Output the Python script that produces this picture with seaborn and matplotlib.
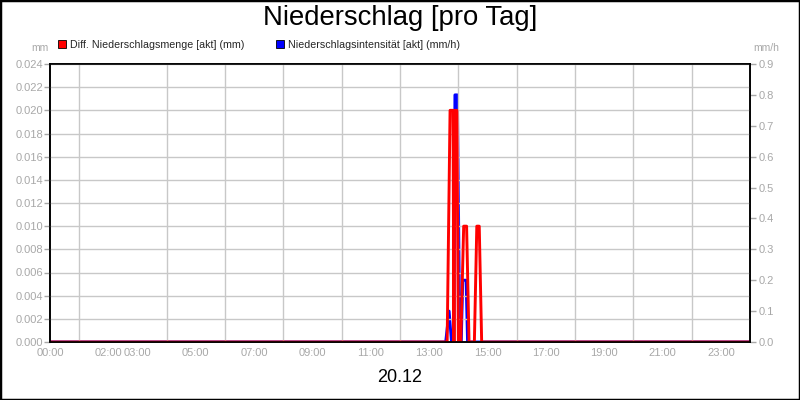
import matplotlib
matplotlib.use("Agg")
import matplotlib.pyplot as plt
import matplotlib.patches as mpatches
import seaborn as sns
import pandas as pd
import numpy as np

# ---- data ----
title = "Niederschlag [pro Tag]"
date_label = "20.12"
red_label = "Diff. Niederschlagsmenge [akt] (mm)"
blue_label = "Niederschlagsintensität [akt] (mm/h)"

red_times = ["00:00", "13:37", "13:43", "13:49", "13:51", "13:53", "13:57", "14:00",
             "14:05", "14:11", "14:17", "14:22", "14:33", "14:38", "14:43", "14:48", "24:00"]
red_values = [0, 0, 0.02, 0.02, 0, 0.02, 0.02, 0,
              0, 0.01, 0.01, 0, 0, 0.01, 0.01, 0, 0]

blue_times = ["00:00", "13:34", "13:41", "13:46", "13:51", "13:53", "13:58", "14:03",
              "14:06", "14:09", "14:16", "14:19", "24:00"]
blue_values = [0, 0, 0.1, 0, 0, 0.8, 0.8, 0,
               0, 0.2, 0.2, 0, 0]

xtick_hours = [0, 2, 3, 5, 7, 9, 11, 13, 15, 17, 19, 21, 23]
xtick_labels = ["00:00", "02:00", "03:00", "05:00", "07:00", "09:00", "11:00",
                "13:00", "15:00", "17:00", "19:00", "21:00", "23:00"]
left_ticks = [0.000, 0.002, 0.004, 0.006, 0.008, 0.010, 0.012, 0.014, 0.016,
              0.018, 0.020, 0.022, 0.024]
right_ticks = [0.0, 0.1, 0.2, 0.3, 0.4, 0.5, 0.6, 0.7, 0.8, 0.9]


def to_hours(t):
    h, m = t.split(":")
    return int(h) + int(m) / 60.0


red_df = pd.DataFrame({"h": [to_hours(t) for t in red_times], "v": red_values})
blue_df = pd.DataFrame({"h": [to_hours(t) for t in blue_times], "v": blue_values})

sns.set_theme(style="white")
plt.rcParams["font.family"] = ["Liberation Sans", "DejaVu Sans"]

GRAY = "#a8a8a8"
GRID = "#c8c8c8"

fig = plt.figure(figsize=(8, 4), dpi=100, facecolor="white")
ax = fig.add_axes([50 / 800, 58 / 400, 700 / 800, 278 / 400])
ax2 = ax.twinx()

# blue on right axis (drawn below), red on left axis (drawn above)
ax.set_zorder(ax2.get_zorder() + 1)
ax.patch.set_visible(False)
ax2.patch.set_facecolor("white")

sns.lineplot(data=blue_df, x="h", y="v", ax=ax2, color="#0000ff", lw=2.1,
             estimator=None, sort=False, legend=False)
sns.lineplot(data=red_df, x="h", y="v", ax=ax, color="#ff0000", lw=2.1,
             estimator=None, sort=False, legend=False)

ax.set_xlim(0, 24)
ax.set_ylim(0, 0.024)
ax2.set_ylim(0, 0.9)

ax.set_xticks(xtick_hours)
ax.set_xticklabels(xtick_labels)
ax.set_xticks(np.arange(0, 25, 1), minor=True)
ax.set_yticks(left_ticks)
ax.set_yticklabels([f"{v:.3f}" for v in left_ticks])
ax2.set_yticks(right_ticks)
ax2.set_yticklabels([f"{v:.1f}" for v in right_ticks])

ax.grid(True, which="minor", axis="x", color=GRID, lw=1)
ax.grid(True, which="major", axis="y", color=GRID, lw=1)
ax.grid(False, which="major", axis="x")
ax.set_axisbelow(True)

for a in (ax, ax2):
    a.set_xlabel("")
    a.set_ylabel("")
    for s in a.spines.values():
        s.set_visible(True)
        s.set_color("black")
        s.set_linewidth(1.2)

ax.tick_params(axis="both", which="both", colors=GRAY, labelcolor=GRAY,
               labelsize=8, length=4, width=1, direction="out", pad=1)
ax.tick_params(axis="x", which="both", length=0, pad=4)
ax2.tick_params(axis="y", colors=GRAY, labelcolor=GRAY, labelsize=8,
                length=4, width=1, direction="out", pad=2)

# unit labels
fig.text(40 / 800, 1 - 48 / 400, "mm", color=GRAY, fontsize=7.5, ha="center", va="center")
fig.text(766 / 800, 1 - 48 / 400, "mm/h", color=GRAY, fontsize=7.5, ha="center", va="center")

# title and date
fig.text(0.5, 1 - 18 / 400, title, fontsize=19.8, ha="center", va="center", color="black")
fig.text(0.5, 1 - 378 / 400, date_label, fontsize=13, ha="center", va="center", color="black")

# legend
handles = [mpatches.Patch(facecolor="#ff0000", edgecolor="black", lw=0.6),
           mpatches.Patch(facecolor="#0000ff", edgecolor="black", lw=0.6)]
fig.legend(handles, [red_label, blue_label], loc="center left",
           bbox_to_anchor=(58 / 800, 1 - 45 / 400), ncol=2, frameon=False,
           fontsize=7.7, handlelength=0.75, handleheight=0.75,
           handletextpad=0.35, columnspacing=3.0, borderaxespad=0, borderpad=0)

# figure border
fig.patches.append(mpatches.Rectangle((0, 0), 1, 1, transform=fig.transFigure,
                                      fill=False, edgecolor="black", lw=2.5))

fig.savefig("out.png", dpi=100, facecolor="white")
